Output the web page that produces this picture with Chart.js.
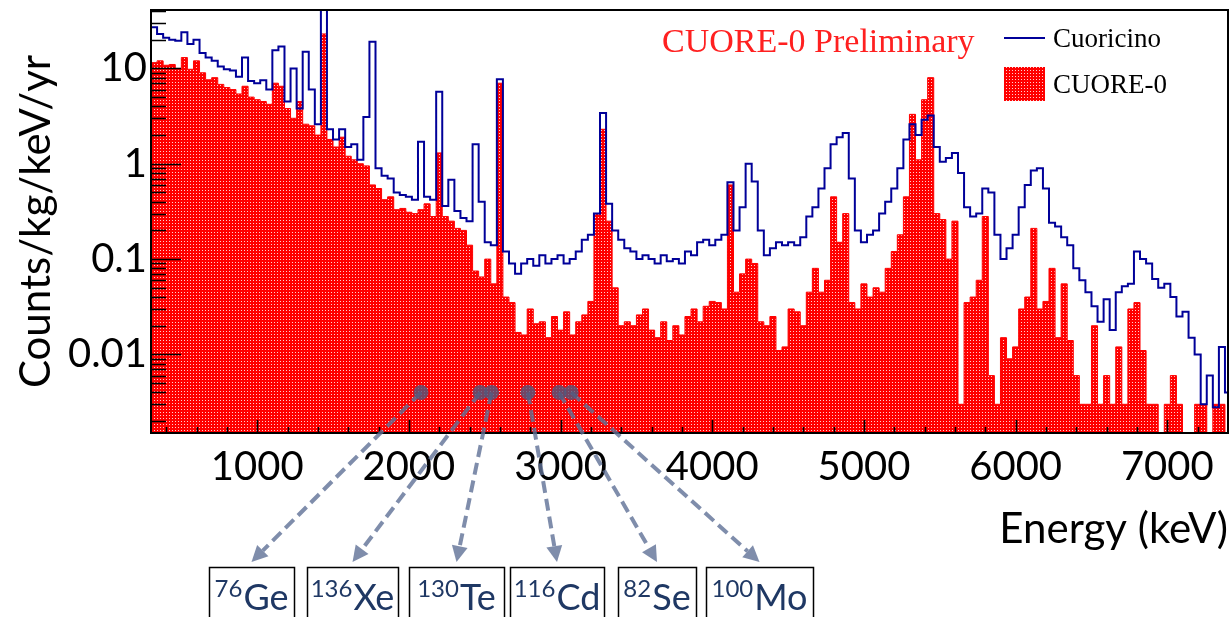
<!DOCTYPE html>
<html>
<head>
<meta charset="utf-8">
<script src="https://cdn.jsdelivr.net/npm/chart.js@4.4.1/dist/chart.umd.min.js"></script>
<style>
  html, body { margin: 0; padding: 0; background: #fff; }
  #wrap { width: 1230px; height: 617px; }
</style>
</head>
<body>
<div id="wrap"><canvas id="spectrum" width="1230" height="617"></canvas></div>
<script>
  // energy binning of both spectra (keV)
  var binStart = 300;
  var binWidth = 40;

  // CUORE-0 rate per bin, counts/kg/keV/yr (0 = empty bin)
  var cuore0 = [
    11.5, 12, 10.8, 11, 10, 13, 9.8, 12, 9, 7.6,
    8, 6.8, 6.3, 6, 5.4, 6.5, 5, 4.7, 4.5, 4.2,
    7, 6.5, 3.8, 3, 4.5, 2.6, 2.5, 2.0, 23, 1.8,
    1.5, 1.9, 1.2, 1.1, 1.0, 0.95, 0.6, 0.55, 0.42, 0.45,
    0.33, 0.34, 0.31, 0.3, 0.33, 0.38, 0.28, 1.3, 0.28, 0.25,
    0.21, 0.2, 0.14, 0.075, 0.065, 0.1, 0.055, 7, 0.04, 0.035,
    0.017, 0.016, 0.03, 0.021, 0.022, 0.015, 0.025, 0.018, 0.028, 0.016,
    0.022, 0.026, 0.036, 0.3, 2.3, 0.25, 0.05, 0.02, 0.022, 0.02,
    0.026, 0.03, 0.018, 0.015, 0.022, 0.014, 0.02, 0.016, 0.025, 0.03,
    0.022, 0.032, 0.036, 0.035, 0.03, 0.6, 0.045, 0.07, 0.1, 0.09,
    0.022, 0.02, 0.025, 0.011, 0.012, 0.03, 0.028, 0.02, 0.045, 0.08,
    0.045, 0.06, 0.45, 0.15, 0.3, 0.035, 0.03, 0.055, 0.04, 0.05,
    0.045, 0.08, 0.12, 0.18, 0.45, 3.3, 1.1, 4.7, 8, 0.3,
    0.26, 0.1, 0.25, 0.003, 0.035, 0.04, 0.06, 0.28, 0.006, 0.003,
    0.015, 0.009, 0.012, 0.03, 0.04, 0.21, 0.03, 0.036, 0.08, 0.015,
    0.055, 0.014, 0.006, 0.003, 0.003, 0.02, 0.003, 0.006, 0.003, 0.012,
    0.003, 0.03, 0.035, 0.011, 0.003, 0.003, 0, 0.003, 0.006, 0.003,
    0, 0, 0.003, 0.003, 0, 0.003, 0.003, 0
  ];

  // Cuoricino rate per bin, counts/kg/keV/yr
  var cuoricino = [
    27, 23, 21, 20, 19.5, 24, 18, 20, 14.5, 13,
    12, 10.5, 9.8, 9.5, 8.2, 13, 7.4, 7, 7.5, 6,
    15.5, 17, 4.5, 10, 3.8, 15, 6, 2.6, 45, 2.3,
    1.8, 2.3, 1.5, 1.6, 1.1, 3.1, 19, 0.9, 0.75, 0.7,
    0.5, 0.47, 0.45, 0.42, 1.7, 0.45, 0.42, 5.7, 0.36, 0.68,
    0.32, 0.27, 0.25, 1.6, 0.4, 0.15, 0.14, 7.7, 0.12, 0.09,
    0.07, 0.09, 0.1, 0.085, 0.11, 0.09, 0.1, 0.11, 0.09, 0.1,
    0.12, 0.16, 0.18, 0.3, 3.4, 0.38, 0.2, 0.16, 0.13, 0.12,
    0.1, 0.11, 0.1, 0.09, 0.11, 0.095, 0.1, 0.09, 0.12, 0.11,
    0.15, 0.16, 0.14, 0.16, 0.18, 0.64, 0.2, 0.35, 1.0, 0.65,
    0.2, 0.11, 0.13, 0.15, 0.14, 0.15, 0.14, 0.17, 0.28, 0.35,
    0.55, 0.9, 1.6, 1.9, 2.1, 0.7, 0.2, 0.15, 0.18, 0.2,
    0.3, 0.4, 0.55, 0.9, 1.8, 2.6, 2.0, 2.9, 3.2, 1.5,
    1.05, 1.15, 1.3, 0.8, 0.35, 0.28, 0.3, 0.55, 0.5, 0.18,
    0.1, 0.13, 0.18, 0.35, 0.6, 0.85, 0.9, 0.55, 0.24, 0.22,
    0.17, 0.14, 0.08, 0.06, 0.045, 0.032, 0.022, 0.038, 0.018, 0.045,
    0.052, 0.055, 0.12, 0.1, 0.09, 0.062, 0.05, 0.055, 0.04, 0.025,
    0.028, 0.015, 0.01, 0.003, 0.006, 0.0028, 0.012, 0.004
  ];

  // axis ticks
  var xTickValues = [1000, 2000, 3000, 4000, 5000, 6000, 7000];
  var yTickValues = [10, 1, 0.1, 0.01];
  var yTickLabels = ["10", "1", "0.1", "0.01"];

  // double beta decay candidates, marked on the spectrum
  var isoMass = ["76", "136", "130", "116", "82", "100"];
  var isoName = ["Ge", "Xe", "Te", "Cd", "Se", "Mo"];
  var isoEnergy = [2080, 2470, 2545, 2785, 2990, 3070];
  var markerLevel = 0.004;

  // label boxes under the axis (left, right edges in px)
  var boxLeft = [209, 307, 409, 510, 618, 706];
  var boxRight = [294, 398, 504, 604, 696, 813];

  var navy = "#000099";
  var arrowColor = "rgba(95, 112, 150, 0.8)";
  var isoTextColor = "#1f3864";

  function histPoints(values) {
    var pts = values.map(function (v, i) {
      return { x: binStart + i * binWidth, y: v > 0 ? v : 1e-5 };
    });
    pts.push({ x: binStart + values.length * binWidth, y: pts[pts.length - 1].y });
    return pts;
  }

  function dotPattern() {
    var c = document.createElement("canvas");
    c.width = 3;
    c.height = 3;
    var g = c.getContext("2d");
    g.fillStyle = "#ff0000";
    g.fillRect(0, 0, 3, 3);
    g.fillStyle = "#ffd0d0";
    g.fillRect(1, 1, 1, 1);
    return g.createPattern(c, "repeat");
  }

  var redFill = dotPattern();

  // frame and inward ticks, ROOT style
  var framePlugin = {
    id: "frame",
    afterDatasetsDraw: function (chart) {
      var ctx = chart.ctx;
      var a = chart.chartArea;
      var x = chart.scales.x;
      var y = chart.scales.y;
      ctx.save();
      ctx.strokeStyle = "#000";
      ctx.lineWidth = 1.6;
      ctx.beginPath();
      for (var e = 400; e < x.max; e += 200) {
        var px = Math.round(x.getPixelForValue(e)) + 0.5;
        var len = e % 1000 === 0 ? 13 : 6;
        ctx.moveTo(px, a.bottom);
        ctx.lineTo(px, a.bottom - len);
      }
      for (var d = -3; d <= 1; d++) {
        for (var m = 1; m <= 9; m++) {
          var v = m * Math.pow(10, d);
          if (v < y.min || v > y.max) continue;
          var py = Math.round(y.getPixelForValue(v)) + 0.5;
          ctx.moveTo(a.left, py);
          ctx.lineTo(a.left + (m === 1 ? 30 : 15), py);
        }
      }
      ctx.stroke();
      ctx.lineWidth = 2;
      ctx.strokeRect(a.left, a.top, a.right - a.left, a.bottom - a.top);
      ctx.restore();
    }
  };

  // title, legend and the isotope markers
  var notesPlugin = {
    id: "notes",
    afterDraw: function (chart) {
      var ctx = chart.ctx;
      var x = chart.scales.x;
      var y = chart.scales.y;
      ctx.save();

      ctx.fillStyle = "#ff2020";
      ctx.font = "34px 'Liberation Serif'";
      ctx.textBaseline = "alphabetic";
      ctx.fillText("CUORE-0 Preliminary", 662, 52);

      ctx.strokeStyle = navy;
      ctx.lineWidth = 2;
      ctx.beginPath();
      ctx.moveTo(1004, 38);
      ctx.lineTo(1045, 38);
      ctx.stroke();
      ctx.fillStyle = redFill;
      ctx.fillRect(1004, 67, 41, 34);
      ctx.fillStyle = "#000";
      ctx.font = "27px 'Liberation Serif'";
      ctx.fillText("Cuoricino", 1053, 47);
      ctx.fillText("CUORE-0", 1053, 93);

      var my = y.getPixelForValue(markerLevel);
      isoEnergy.forEach(function (en, i) {
        var sx = x.getPixelForValue(en);
        var tx = (boxLeft[i] + boxRight[i]) / 2;
        var ty = 562;
        var ang = Math.atan2(ty - my, tx - sx);
        var head = 16;
        var bx = tx - head * Math.cos(ang);
        var by = ty - head * Math.sin(ang);

        ctx.strokeStyle = arrowColor;
        ctx.lineWidth = 4;
        ctx.setLineDash([12, 6]);
        ctx.beginPath();
        ctx.moveTo(sx, my);
        ctx.lineTo(bx, by);
        ctx.stroke();
        ctx.setLineDash([]);

        ctx.fillStyle = arrowColor;
        ctx.beginPath();
        ctx.moveTo(tx, ty);
        ctx.lineTo(bx + 8 * Math.sin(ang), by - 8 * Math.cos(ang));
        ctx.lineTo(bx - 8 * Math.sin(ang), by + 8 * Math.cos(ang));
        ctx.closePath();
        ctx.fill();

        ctx.fillStyle = "rgba(80, 88, 125, 0.8)";
        ctx.beginPath();
        ctx.arc(sx, my, 7.5, 0, Math.PI * 2);
        ctx.fill();

        ctx.strokeStyle = "#000";
        ctx.lineWidth = 1.5;
        ctx.strokeRect(boxLeft[i] + 0.5, 567.5, boxRight[i] - boxLeft[i], 60);

        ctx.font = "24px Lato";
        var wSup = ctx.measureText(isoMass[i]).width;
        ctx.font = "36px Lato";
        var wMain = ctx.measureText(isoName[i]).width;
        var left = tx - (wSup + wMain + 1) / 2;
        ctx.fillStyle = isoTextColor;
        ctx.font = "24px Lato";
        ctx.fillText(isoMass[i], left, 597);
        ctx.font = "36px Lato";
        ctx.fillText(isoName[i], left + wSup + 1, 610);
      });
      ctx.restore();
    }
  };

  new Chart(document.getElementById("spectrum").getContext("2d"), {
    type: "line",
    data: {
      datasets: [
        {
          label: "Cuoricino",
          data: histPoints(cuoricino),
          stepped: true,
          borderColor: navy,
          borderWidth: 2,
          pointRadius: 0,
          fill: false,
          order: 0,
        },
        {
          label: "CUORE-0",
          data: histPoints(cuore0),
          stepped: true,
          borderColor: "#ff0000",
          borderWidth: 1,
          backgroundColor: redFill,
          pointRadius: 0,
          fill: "start",
          order: 1,
        },
      ],
    },
    options: {
      responsive: false,
      animation: false,
      devicePixelRatio: 1,
      layout: { padding: { top: 10, right: 2, left: 0, bottom: 0 } },
      plugins: {
        legend: { display: false },
        tooltip: { enabled: false },
      },
      scales: {
        x: {
          type: "linear",
          min: 300,
          max: 7400,
          afterFit: function (s) {
            s.height = 184;
            s.paddingLeft = 0;
            s.paddingRight = 0;
          },
          afterBuildTicks: function (s) {
            s.ticks = xTickValues.map(function (v) { return { value: v }; });
          },
          grid: { display: false, drawTicks: false },
          border: { display: false },
          ticks: {
            font: { family: "Lato", size: 40 },
            color: "#000",
            padding: 10,
            maxRotation: 0,
            autoSkip: false,
            callback: function (v) { return String(v); },
          },
          title: {
            display: true,
            text: "Energy (keV)",
            align: "end",
            color: "#000",
            font: { family: "Lato", size: 42 },
            padding: { top: 0, bottom: 62 },
          },
        },
        y: {
          type: "logarithmic",
          min: 0.0015,
          max: 41,
          afterFit: function (s) {
            s.width = 151;
            s.paddingTop = 0;
            s.paddingBottom = 0;
          },
          afterBuildTicks: function (s) {
            s.ticks = yTickValues.map(function (v) { return { value: v }; });
          },
          grid: { display: false, drawTicks: false },
          border: { display: false },
          ticks: {
            font: { family: "Lato", size: 40 },
            color: "#000",
            padding: 4,
            autoSkip: false,
            callback: function (v, i) { return yTickLabels[i]; },
          },
          title: {
            display: true,
            text: "Counts/kg/keV/yr",
            color: "#000",
            font: { family: "Lato", size: 42 },
            padding: { top: 11, bottom: 0 },
          },
        },
      },
    },
    plugins: [framePlugin, notesPlugin],
  });
</script>
</body>
</html>
